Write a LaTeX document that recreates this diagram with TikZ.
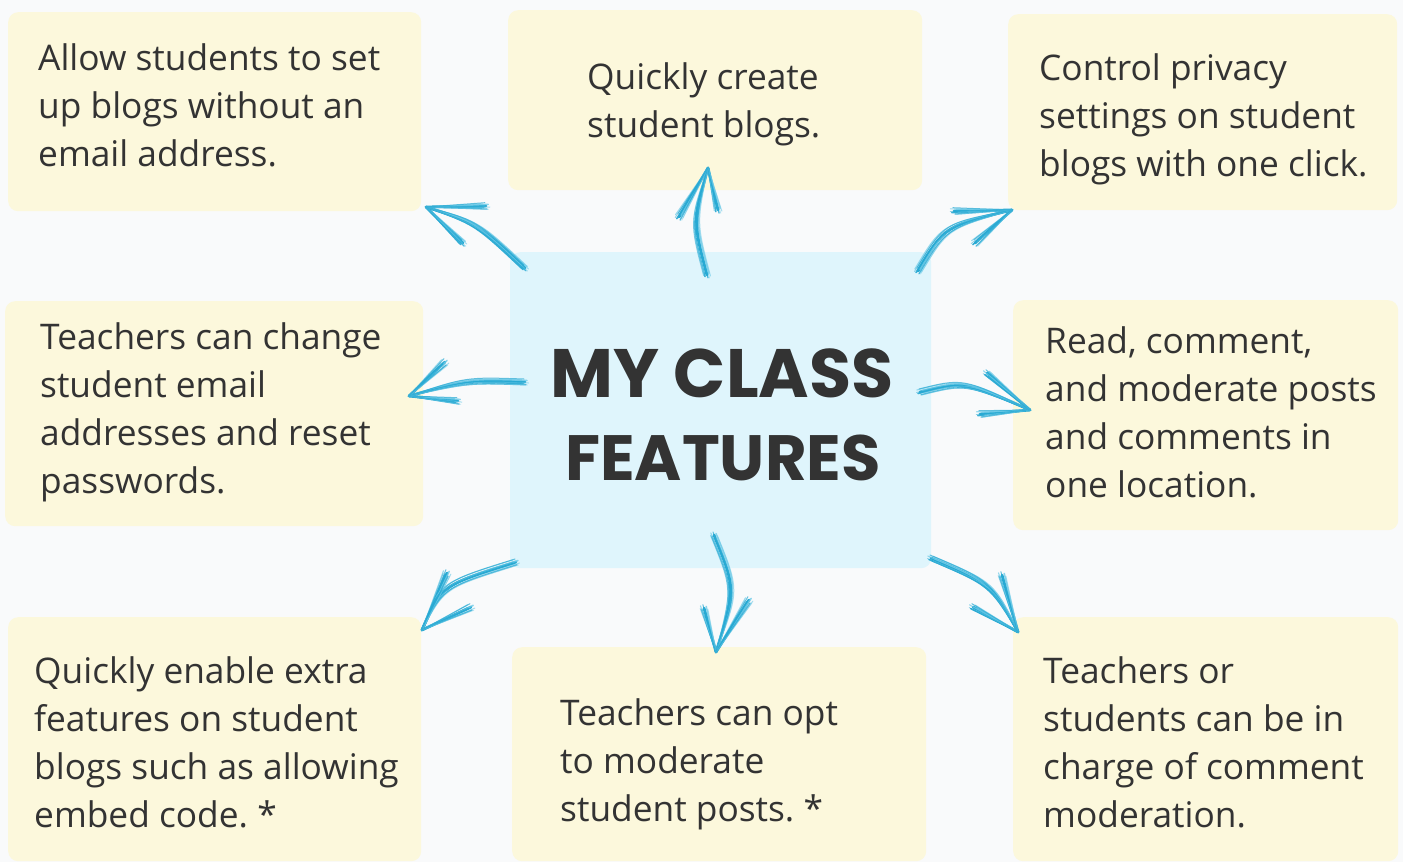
\documentclass[tikz,border=0pt]{standalone}
\usepackage{fontspec}
\setmainfont{Open Sans}
\newfontfamily\poppins{Poppins}
\definecolor{bgc}{HTML}{F9FAFB}
\definecolor{boxyellow}{HTML}{FCF8DC}
\definecolor{boxblue}{HTML}{DFF5FC}
\definecolor{ink}{HTML}{333333}
\definecolor{brushA}{HTML}{27A9D3}
\definecolor{brushB}{HTML}{6FCBE8}
\newcommand\brusharrow[1]{%
  \foreach \dx/\dy/\w/\op/\col in {0/0/2.8/1/brushA, 2/-1.5/1.5/0.8/brushB, -2/1.5/1.6/0.9/brushA, 3.5/1/1.0/0.6/brushB, -3.2/-2/1.1/0.7/brushB, 1/2.8/1.3/0.8/brushA, -1/-3/1.0/0.7/brushA, 2.5/3/0.8/0.5/brushB, -3.5/0.5/0.8/0.5/brushA} {
    \draw[line width=\w pt, draw=\col, opacity=\op, line cap=round]
      ([shift={(\dx,\dy)}]#1s) .. controls ([shift={(\dx,\dy)}]#1c) .. (#1t);
    \draw[line width=\w pt, draw=\col, opacity=\op, line cap=round]
      ([shift={(1.1*\dx,1.1*\dy)}]#1b) -- (#1t);
    \draw[line width=\w pt, draw=\col, opacity=\op, line cap=round]
      ([shift={(1.1*\dx,1.1*\dy)}]#1d) -- (#1t);
  }}
\begin{document}
\begin{tikzpicture}[x=1pt,y=-1pt,
  ybox/.style={fill=boxyellow, rounded corners=10pt, inner sep=0pt, anchor=north west, draw=none},
  cbox/.style={fill=boxblue, rounded corners=10pt, inner sep=0pt, anchor=north west, draw=none},
  txt/.style={anchor=base west, align=left, inner sep=0pt, text=ink, font=\fontsize{35.3}{47.7}\selectfont},
  ttl/.style={anchor=base, align=center, inner sep=0pt, text=ink}]
\useasboundingbox[fill=bgc] (0,0) rectangle (1403,862);
% boxes
\node[ybox, minimum width=413pt, minimum height=199pt] (tl) at (8,12) {};
\node[ybox, minimum width=414pt, minimum height=180pt] (tm) at (508,10) {};
\node[ybox, minimum width=389pt, minimum height=196pt] (tr) at (1008,14) {};
\node[ybox, minimum width=418pt, minimum height=225pt] (ml) at (5,301) {};
\node[ybox, minimum width=385pt, minimum height=230pt] (mr) at (1013,300) {};
\node[ybox, minimum width=413pt, minimum height=244pt] (bl) at (8,617) {};
\node[ybox, minimum width=414pt, minimum height=214pt] (bm) at (512,647) {};
\node[ybox, minimum width=385pt, minimum height=244pt] (br) at (1013,617) {};
\node[cbox, minimum width=421pt, minimum height=316pt] (ctr) at (510,252) {};
% texts (anchor = baseline of last line)
\node[txt] (tlt) at (38,166) {Allow students to set\\up blogs without an\\email address.};
\node[txt] (tmt) at (587,137) {Quickly create\\student blogs.};
\node[txt] (trt) at (1039,176) {Control privacy\\settings on student\\blogs with one click.};
\node[txt] (mlt) at (40,493) {Teachers can change\\student email\\addresses and reset\\passwords.};
\node[txt] (mrt) at (1045,497) {Read, comment,\\and moderate posts\\and comments in\\one location.};
\node[txt] (blt) at (34,827) {Quickly enable extra\\features on student\\blogs such as allowing\\embed code.\kern-3pt{} *};
\node[txt] (bmt) at (560,821) {Teachers can opt\\to moderate\\student posts.\kern-3pt{} *};
\node[txt] (brt) at (1043,827) {Teachers or\\students can be in\\charge of comment\\moderation.};
\node[ttl, font=\poppins\bfseries\fontsize{68.5}{83}\selectfont] (title1) at (722,397) {MY CLASS};
\node[ttl, font=\poppins\bfseries\fontsize{64}{83}\selectfont] (title2) at (723,480) {FEATURES};
% arrow coordinates
\coordinate (a1s) at (525,268); \coordinate (a1c) at (477,223); \coordinate (a1t) at (426,207);
\coordinate (a1b) at (486,206); \coordinate (a1d) at (463,243);
\coordinate (a2s) at (707,275); \coordinate (a2c) at (693,222); \coordinate (a2t) at (708,168);
\coordinate (a2b) at (679,217); \coordinate (a2d) at (718,210);
\coordinate (a3s) at (918,271); \coordinate (a3c) at (945,226); \coordinate (a3t) at (1012,210);
\coordinate (a3b) at (954,211); \coordinate (a3d) at (975,243);
\coordinate (a4s) at (525,382); \coordinate (a4c) at (467,380); \coordinate (a4t) at (409,396);
\coordinate (a4b) at (445,362); \coordinate (a4d) at (458,401);
\coordinate (a5s) at (920,392); \coordinate (a5c) at (964,381); \coordinate (a5t) at (1030,410);
\coordinate (a5b) at (987,373); \coordinate (a5d) at (980,414);
\coordinate (a6s) at (516,562); \coordinate (a6c) at (442,585); \coordinate (a6t) at (422,630);
\coordinate (a6b) at (447,573); \coordinate (a6d) at (471,607);
\coordinate (a7s) at (714,535); \coordinate (a7c) at (736,589); \coordinate (a7t) at (716,652);
\coordinate (a7b) at (704,608); \coordinate (a7d) at (749,600);
\coordinate (a8s) at (931,558); \coordinate (a8c) at (992,584); \coordinate (a8t) at (1018,632);
\coordinate (a8b) at (1002,575); \coordinate (a8d) at (973,607);
\brusharrow{a1}\brusharrow{a2}\brusharrow{a3}\brusharrow{a4}
\brusharrow{a5}\brusharrow{a6}\brusharrow{a7}\brusharrow{a8}
\end{tikzpicture}
\end{document}
